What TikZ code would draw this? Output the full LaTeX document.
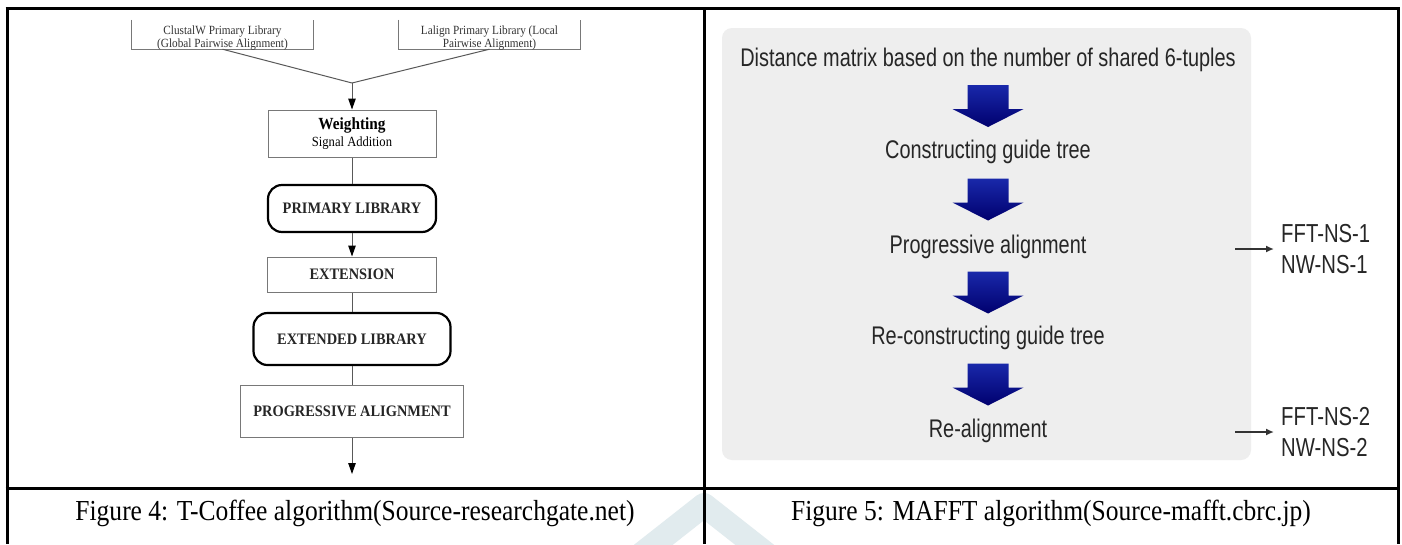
\documentclass[tikz,border=0pt]{standalone}
\usepackage{fontspec}
\setmainfont{Liberation Serif}
\newfontfamily\narrowsans[FakeStretch=0.78]{Liberation Sans}
\newfontfamily\lserif[FakeStretch=0.9]{Liberation Serif}
\newfontfamily\capserif[FakeStretch=0.88]{Liberation Serif}
\usetikzlibrary{calc,arrows.meta}
\definecolor{panelgray}{RGB}{238,238,238}
\definecolor{navytop}{RGB}{25,40,170}
\definecolor{navybot}{RGB}{0,0,110}
\definecolor{boxgray}{RGB}{120,120,120}
\definecolor{wmark}{RGB}{225,235,238}
\tikzset{
  tbl/.style={line width=3pt, black},
  libtxt/.style={font=\lserif\fontsize{12.5}{11}\selectfont, align=center, inner sep=0pt, text=black!80},
  plainbox/.style={draw=boxgray, line width=1pt, align=center, inner sep=0pt},
  roundbox/.style={draw=black, line width=2.2pt, rounded corners=14pt, align=center, inner sep=0pt},
  capsfont/.style={font=\lserif\fontsize{16}{18}\selectfont\bfseries, text=black!85},
  conn/.style={draw=black!65, line width=1pt},
  tipconn/.style={conn, -{Triangle[width=7.5pt,length=11pt,color=black]}},
  flowtxt/.style={font=\narrowsans\fontsize{25.5}{28}\selectfont, inner sep=0pt, text=black!85},
  outtxt/.style={font=\narrowsans\fontsize{26}{31}\selectfont, align=left, inner sep=0pt, anchor=west, text=black!85},
  thinarrow/.style={draw=black!80, line width=1.8pt, -{Latex[length=8pt,width=7pt]}},
  captxt/.style={font=\capserif\fontsize{29}{32}\selectfont, inner sep=0pt},
  navyarrow/.style={top color=navytop, bottom color=navybot, draw=none}
}
\newcommand{\navyarrow}[1]{%
  \shade[navyarrow] ($(#1)+(-20.5,-21)$) -- ($(#1)+(20.5,-21)$) -- ($(#1)+(20.5,3)$)
    -- ($(#1)+(35.5,3)$) -- ($(#1)+(0,21)$) -- ($(#1)+(-35.5,3)$) -- ($(#1)+(-20.5,3)$) -- cycle;}
\begin{document}
\begin{tikzpicture}[x=1pt,y=-1pt]
\useasboundingbox (0,0) rectangle (1402,544);
\fill[white] (0,0) rectangle (1402,544);

% watermark
\draw[wmark, line width=24pt, line join=round] (615,575) -- (704,505) -- (793,575);

% table lines
\draw[tbl] (5.5,8) -- (1399.5,8);
\draw[tbl] (7,8) -- (7,544);
\draw[tbl] (704,8) -- (704,544);
\draw[tbl] (1398,8) -- (1398,544);
\draw[tbl] (5.5,488) -- (1399.5,488);

% ---------------- left figure: T-Coffee ----------------
\node[minimum width=181pt, minimum height=29pt, inner sep=0pt] (clw) at (222.5,34.5) {};
\draw[boxgray, line width=1pt] (clw.north west) |- (clw.south east) -- (clw.north east);
\node[libtxt] (clwt) at (222.5,38) {ClustalW Primary Library\\(Global Pairwise Alignment)};

\node[minimum width=181pt, minimum height=29pt, inner sep=0pt] (lal) at (489.5,34.5) {};
\draw[boxgray, line width=1pt] (lal.north west) |- (lal.south east) -- (lal.north east);
\node[libtxt] (lalt) at (489.5,38) {Lalign Primary Library (Local\\Pairwise Alignment)};

\coordinate (join) at (352,83);
\draw[conn] (clw.south) -- (join);
\draw[conn] (lal.south) -- (join);

\node[plainbox, minimum width=168pt, minimum height=47pt] (wgt) at (352,133.5)
  {{\lserif\fontsize{17}{19}\selectfont\bfseries Weighting}\\[3pt]{\lserif\fontsize{14}{15}\selectfont Signal Addition}};
\draw[tipconn] (join) -- (wgt.north);

\node[roundbox, capsfont, minimum width=168pt, minimum height=47pt] (prim) at (352,208.5) {PRIMARY LIBRARY};
\draw[conn] (wgt.south) -- (prim.north);

\node[plainbox, capsfont, minimum width=169pt, minimum height=35pt] (ext) at (352,274.5) {EXTENSION};
\draw[tipconn] (prim.south) -- (ext.north);

\node[roundbox, capsfont, minimum width=197pt, minimum height=52pt] (extd) at (352,339) {EXTENDED LIBRARY};
\draw[conn] (ext.south) -- (extd.north);

\node[plainbox, capsfont, minimum width=223pt, minimum height=52pt] (prog) at (352,411) {PROGRESSIVE ALIGNMENT};
\draw[conn] (extd.south) -- (prog.north);

\coordinate (endL) at (352,474);
\draw[tipconn] (prog.south) -- (endL);

% ---------------- right figure: MAFFT ----------------
\fill[panelgray, rounded corners=10pt] (722,28) rectangle (1251,460);

\node[flowtxt] (dist) at (988,60) {Distance matrix based on the number of shared 6-tuples};
\node[flowtxt] (cons) at (988,152) {Constructing guide tree};
\node[flowtxt] (pga) at (988,247) {Progressive alignment};
\node[flowtxt] (rcons) at (988,338) {Re-constructing guide tree};
\node[flowtxt] (real) at (988,431) {Re-alignment};

\coordinate (m1) at ($(dist)!0.5!(cons)$);
\coordinate (m2) at ($(cons)!0.5!(pga)$);
\coordinate (m3) at ($(pga)!0.5!(rcons)$);
\coordinate (m4) at ($(rcons)!0.5!(real)$);
\navyarrow{m1}
\navyarrow{m2}
\navyarrow{m3}
\navyarrow{m4}

\node[outtxt] (fft1) at (1281,249) {FFT-NS-1\\NW-NS-1};
\node[outtxt] (fft2) at (1281,432) {FFT-NS-2\\NW-NS-2};
\coordinate (a1) at (1235,249);
\coordinate (a2) at (1235,432);
\draw[thinarrow, shorten >=7pt] (a1) -- (fft1.west);
\draw[thinarrow, shorten >=7pt] (a2) -- (fft2.west);

% captions
\node[captxt] (cap4) at (355,513) {Figure 4: T-Coffee algorithm(Source-researchgate.net)};
\node[captxt] (cap5) at (1051,513) {Figure 5: MAFFT algorithm(Source-mafft.cbrc.jp)};
\end{tikzpicture}
\end{document}
